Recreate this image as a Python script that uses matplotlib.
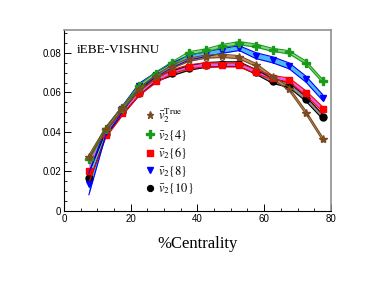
import numpy as np
import matplotlib
matplotlib.use("Agg")
import matplotlib.pyplot as plt
from matplotlib.ticker import MultipleLocator

plt.rcParams['mathtext.fontset'] = 'stix'
plt.rcParams['font.family'] = ['Liberation Sans', 'DejaVu Sans']

centrality = [7.5, 12.5, 17.5, 22.5, 27.5, 32.5, 37.5, 42.5, 47.5, 52.5, 57.5, 62.5, 67.5, 72.5, 77.5]

v2_true = [0.0275, 0.0415, 0.0520, 0.0615, 0.0680, 0.0730, 0.0765, 0.0781, 0.0785, 0.0778, 0.0739, 0.0677, 0.0616, 0.0498, 0.0365]
v2_4 = [0.0262, 0.0414, 0.0520, 0.0630, 0.0694, 0.0748, 0.0798, 0.0812, 0.0835, 0.0849, 0.0837, 0.0815, 0.0803, 0.0751, 0.0658]
v2_6 = [0.0203, 0.0385, 0.0495, 0.0595, 0.0658, 0.0705, 0.0730, 0.0739, 0.0739, 0.0739, 0.0705, 0.0675, 0.0663, 0.0596, 0.0515]
v2_8 = [0.0137, 0.0400, 0.0515, 0.0633, 0.0689, 0.0738, 0.0776, 0.0793, 0.0810, 0.0824, 0.0786, 0.0765, 0.0734, 0.0667, 0.0574]
v2_10 = [0.0167, 0.0388, 0.0500, 0.0595, 0.0667, 0.0697, 0.0724, 0.0739, 0.0743, 0.0743, 0.0704, 0.0658, 0.0636, 0.0567, 0.0477]

err_true = [0.0008, 0.0008, 0.0008, 0.0008, 0.0008, 0.0008, 0.0008, 0.0008, 0.0008, 0.0008, 0.0008, 0.0008, 0.0008, 0.0008, 0.0008]
err_4 = [0.0008, 0.0008, 0.0008, 0.0008, 0.0008, 0.0008, 0.0008, 0.0008, 0.0008, 0.0008, 0.0008, 0.0008, 0.0008, 0.0008, 0.0008]
err_6 = [0.0060, 0.0015, 0.0012, 0.0010, 0.0010, 0.0010, 0.0010, 0.0010, 0.0010, 0.0010, 0.0010, 0.0010, 0.0010, 0.0012, 0.0012]
err_8 = [0.0055, 0.0020, 0.0015, 0.0012, 0.0012, 0.0012, 0.0012, 0.0012, 0.0012, 0.0012, 0.0015, 0.0015, 0.0015, 0.0015, 0.0015]
err_10 = [0.0025, 0.0012, 0.0012, 0.0012, 0.0012, 0.0012, 0.0012, 0.0012, 0.0012, 0.0012, 0.0012, 0.0012, 0.0012, 0.0012, 0.0012]

labels = [r'$\bar{v}_2^{\rm True}$', r'$\bar{v}_2\{4\}$', r'$\bar{v}_2\{6\}$', r'$\bar{v}_2\{8\}$', r'$\bar{v}_2\{10\}$']

series = [
    # (values, err, line colour, band colour, marker, size)
    (v2_10, err_10, 'black', '#909090', 'o', 5),
    (v2_6, err_6, '#ff0000', '#e060e0', 's', 5),
    (v2_8, err_8, '#0000ff', '#50b8f0', 'v', 5),
    (v2_4, err_4, '#1a9a1a', '#80d880', 'P', 6),
    (v2_true, err_true, '#7a4a20', '#c09060', '*', 6),
]
legend_order = [4, 3, 1, 2, 0]

fig = plt.figure(figsize=(3.8, 2.87), dpi=100)
ax = fig.add_axes([0.168, 0.265, 0.703, 0.63])

x = np.array(centrality)
handles = []
for vals, err, c, bc, m, ms in series:
    v = np.array(vals)
    e = np.array(err)
    ax.fill_between(x, v - e, v + e, color=bc, lw=0)
    ax.plot(x, v - e, color=c, lw=0.8)
    ax.plot(x, v + e, color=c, lw=0.8)
    h, = ax.plot(x, v, ls='none', marker=m, color=c, ms=ms, mec=c)
    handles.append(h)

leg = ax.legend([handles[i] for i in legend_order], labels, loc='upper left',
                bbox_to_anchor=(0.29, 0.605), frameon=False, fontsize=9,
                handlelength=0.6, handletextpad=0.3, labelspacing=0.2,
                borderaxespad=0, markerscale=0.85)

ax.text(0.05, 0.89, 'iEBE-VISHNU', transform=ax.transAxes, fontsize=9.5,
        family='Liberation Serif', va='center')

ax.set_xlim(0, 80)
ax.set_ylim(0, 0.0915)
ax.xaxis.set_major_locator(MultipleLocator(20))
ax.xaxis.set_minor_locator(MultipleLocator(5))
ax.yaxis.set_major_locator(MultipleLocator(0.02))
ax.yaxis.set_minor_locator(MultipleLocator(0.005))
ax.yaxis.set_major_formatter(matplotlib.ticker.FuncFormatter(lambda v, p: '0' if v == 0 else f'{v:.2f}'))
ax.tick_params(which='both', direction='in', labelsize=7, top=False, right=False)
ax.tick_params(which='major', length=5, width=0.7)
ax.tick_params(which='minor', length=2.5, width=0.6)
ax.tick_params(axis='x', pad=2)
ax.tick_params(axis='y', pad=2)
for s in ['top', 'right']:
    ax.spines[s].set_color('#909090')
    ax.spines[s].set_linewidth(1.2)
for s in ['left', 'bottom']:
    ax.spines[s].set_linewidth(0.8)

ax.set_xlabel('%Centrality', family='Liberation Serif', fontsize=12, labelpad=9)

plt.savefig('out.png', dpi=100)
